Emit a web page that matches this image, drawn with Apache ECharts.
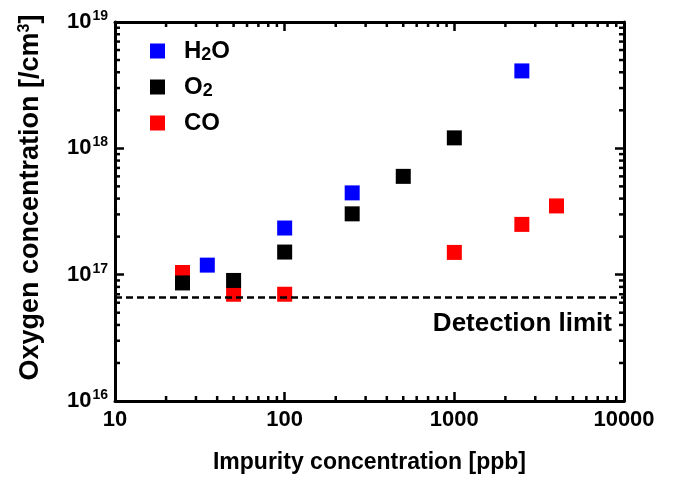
<!DOCTYPE html>
<html>
<head>
<meta charset="utf-8">
<script src="https://cdn.jsdelivr.net/npm/echarts@6/dist/echarts.min.js"></script>
<style>
html,body{margin:0;padding:0;background:#fff;}
#chart{width:673px;height:481px;}
</style>
</head>
<body>
<div id="chart"></div>
<script>
// ---- data ----
var h2oX = [35, 100, 250, 2500];
var h2oY = [1.19e17, 2.34e17, 4.44e17, 4.1e18];
var o2X = [25, 50, 100, 250, 500, 1000];
var o2Y = [8.6e16, 9.0e16, 1.51e17, 3.03e17, 6.0e17, 1.21e18];
var coX = [25, 50, 100, 1000, 2500, 4000];
var coY = [1.04e17, 7.0e16, 7.0e16, 1.5e17, 2.5e17, 3.5e17];
var detectionLimit = 6.6e16;
var xTickLabels = ['10', '100', '1000', '10000'];
var yTickExponents = [16, 17, 18, 19];
var xMin = 10, xMax = 10000, yMin = 1e16, yMax = 1e19;

function pairs(xs, ys) { return xs.map(function (x, i) { return [x, ys[i]]; }); }

// minor tick values (2..9 x 10^n)
var minorData = [];
for (var d = 1; d < 4; d++) for (var k = 2; k <= 9; k++) minorData.push([k * Math.pow(10, d), yMin, 0]);
for (var e = 16; e < 19; e++) for (var k2 = 2; k2 <= 9; k2++) minorData.push([xMin, k2 * Math.pow(10, e), 1]);

var FONT = '"Liberation Sans", Arial, Helvetica, sans-serif';
var chart = echarts.init(document.getElementById('chart'), null, { renderer: 'canvas' });

var axisLineStyle = { color: '#000', width: 3 };
var majorTick = { show: true, inside: true, length: 9, lineStyle: { color: '#000', width: 2.5 } };

var option = {
  backgroundColor: '#fff',
  animation: false,
  grid: { left: 115, right: 49, top: 22, bottom: 80, containLabel: false },
  legend: {
    orient: 'vertical', left: 145, top: 34, itemWidth: 15, itemHeight: 15, itemGap: 11,
    icon: 'rect',
    data: ['H2O', 'O2', 'CO'],
    formatter: function (n) {
      if (n === 'H2O') return '{n|H}{s|2}{n|O}';
      if (n === 'O2') return '{n|O}{s|2}';
      return '{n|CO}';
    },
    textStyle: {
      fontFamily: FONT, fontWeight: 'bold', fontSize: 24, color: '#000', padding: [0, 0, 0, 14],
      rich: {
        n: { fontFamily: FONT, fontWeight: 'bold', fontSize: 24, color: '#000' },
        s: { fontFamily: FONT, fontWeight: 'bold', fontSize: 18, color: '#000', verticalAlign: 'bottom', padding: [8, 0, 0, 0] }
      }
    }
  },
  xAxis: [{
    type: 'log', logBase: 10, min: xMin, max: xMax,
    name: 'Impurity concentration [ppb]', nameLocation: 'middle', nameGap: 50,
    nameTextStyle: { fontFamily: FONT, fontWeight: 'bold', fontSize: 23, color: '#000' },
    axisLine: { show: true, lineStyle: axisLineStyle },
    axisTick: majorTick,
    splitLine: { show: false },
    axisLabel: {
      margin: 8, fontFamily: FONT, fontWeight: 'bold', fontSize: 22, color: '#000',
      formatter: function (v) { var i = Math.round(Math.log10(v)) - 1; return xTickLabels[i]; }
    }
  }, {
    type: 'log', logBase: 10, min: xMin, max: xMax, position: 'top',
    axisLine: { show: true, lineStyle: axisLineStyle },
    axisTick: majorTick, axisLabel: { show: false }, splitLine: { show: false }
  }],
  yAxis: [{
    type: 'log', logBase: 10, min: yMin, max: yMax,
    name: '{a|Oxygen concentration [/cm}{s|3}{a|]}', nameLocation: 'middle', nameGap: 70,
    nameTextStyle: {
      padding: [0, 0, 0, 28],
      rich: {
        a: { fontFamily: FONT, fontWeight: 'bold', fontSize: 27, color: '#000' },
        s: { fontFamily: FONT, fontWeight: 'bold', fontSize: 16, color: '#000', verticalAlign: 'top', padding: [0, 0, 12, 0] }
      }
    },
    axisLine: { show: true, lineStyle: axisLineStyle },
    axisTick: majorTick,
    splitLine: { show: false },
    axisLabel: {
      margin: 7,
      formatter: function (v) { return '{b|10}{s|' + Math.round(Math.log10(v)) + '}'; },
      rich: {
        b: { fontFamily: FONT, fontWeight: 'bold', fontSize: 22, color: '#000' },
        s: { fontFamily: FONT, fontWeight: 'bold', fontSize: 14, color: '#000', verticalAlign: 'top', padding: [0, 0, 12, 1] }
      }
    }
  }, {
    type: 'log', logBase: 10, min: yMin, max: yMax, position: 'right',
    axisLine: { show: true, lineStyle: axisLineStyle },
    axisTick: majorTick, axisLabel: { show: false }, splitLine: { show: false }
  }],
  graphic: [{
    type: 'text', right: 61, top: 311,
    style: { text: 'Detection limit', font: 'bold 26px ' + FONT, fill: '#000' }
  }],
  series: [
    {
      name: 'minor', type: 'custom', silent: true, z: 1,
      data: minorData, encode: { x: 0, y: 1 },
      renderItem: function (params, api) {
        var cs = params.coordSys;
        var L = 5;
        var st = { stroke: '#000', lineWidth: 2.5 };
        if (api.value(2) === 0) {
          var p = api.coord([api.value(0), yMin]);
          var b = cs.y + cs.height;
          return { type: 'group', children: [
            { type: 'line', shape: { x1: p[0], y1: b, x2: p[0], y2: b - L }, style: st },
            { type: 'line', shape: { x1: p[0], y1: cs.y, x2: p[0], y2: cs.y + L }, style: st }
          ] };
        } else {
          var q = api.coord([xMin, api.value(1)]);
          var r = cs.x + cs.width;
          return { type: 'group', children: [
            { type: 'line', shape: { x1: cs.x, y1: q[1], x2: cs.x + L, y2: q[1] }, style: st },
            { type: 'line', shape: { x1: r, y1: q[1], x2: r - L, y2: q[1] }, style: st }
          ] };
        }
      }
    },
    { name: 'CO', type: 'scatter', symbol: 'rect', symbolSize: 15, itemStyle: { color: '#ff0000', opacity: 1 }, data: pairs(coX, coY), z: 3 },
    { name: 'O2', type: 'scatter', symbol: 'rect', symbolSize: 15, itemStyle: { color: '#000000', opacity: 1 }, data: pairs(o2X, o2Y), z: 4 },
    { name: 'H2O', type: 'scatter', symbol: 'rect', symbolSize: 15, itemStyle: { color: '#0000ff', opacity: 1 }, data: pairs(h2oX, h2oY), z: 5 },
    {
      name: 'limit', type: 'line', symbol: 'none', z: 6, silent: true,
      lineStyle: { color: '#000', width: 2.5, type: [7, 4] },
      data: [[xMin, detectionLimit], [xMax, detectionLimit]]
    }
  ]
};
chart.setOption(option);
</script>
</body>
</html>
